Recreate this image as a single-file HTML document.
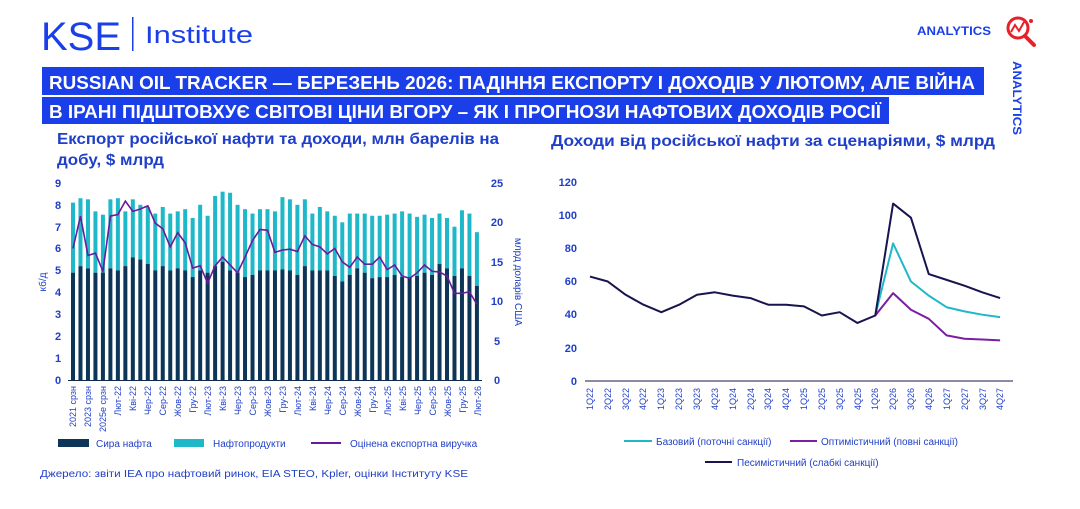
<!DOCTYPE html>
<html><head><meta charset="utf-8">
<style>
html,body{margin:0;padding:0;background:#fff;width:1080px;height:509px;overflow:hidden}
svg{display:block;font-family:"Liberation Sans","DejaVu Sans",sans-serif}
</style></head>
<body>
<svg id="s" width="1080" height="509" viewBox="0 0 1080 509">
<rect width="1080" height="509" fill="#fff"/>
<!-- header -->
<text x="41" y="50" style="font-family:'Liberation Sans',sans-serif" font-size="40" fill="#1a3ee8" textLength="80" lengthAdjust="spacingAndGlyphs">KSE</text>
<rect x="132" y="17" width="1.5" height="34" fill="#1a3ee8"/>
<text x="145" y="43" style="font-family:'Liberation Sans',sans-serif" font-size="24" fill="#1a3ee8" textLength="108" lengthAdjust="spacingAndGlyphs">Institute</text>
<text x="917" y="35" font-size="12" font-weight="bold" fill="#1a3ee8" textLength="74" lengthAdjust="spacingAndGlyphs">ANALYTICS</text>
<circle cx="1018" cy="28" r="10" fill="none" stroke="#e8202a" stroke-width="3"/>
<line x1="1025" y1="36" x2="1034" y2="45" stroke="#e8202a" stroke-width="4" stroke-linecap="round"/>
<polyline points="1011,32 1015,25 1019,31 1024,22" fill="none" stroke="#e8202a" stroke-width="2"/>
<circle cx="1031" cy="21" r="2" fill="#e8202a"/>
<text transform="translate(1013,61) rotate(90)" font-size="12" font-weight="bold" fill="#1a3ee8" textLength="74" lengthAdjust="spacingAndGlyphs">ANALYTICS</text>
<rect x="42" y="67" width="942" height="28" fill="#1a3ee8"/>
<rect x="42" y="97" width="847" height="27" fill="#1a3ee8"/>
<text x="49" y="89" font-size="18" font-weight="bold" fill="#fff" textLength="926" lengthAdjust="spacingAndGlyphs">RUSSIAN OIL TRACKER — БЕРЕЗЕНЬ 2026: ПАДІННЯ ЕКСПОРТУ І ДОХОДІВ У ЛЮТОМУ, АЛЕ ВІЙНА</text>
<text x="49" y="118" font-size="18" font-weight="bold" fill="#fff" textLength="832" lengthAdjust="spacingAndGlyphs">В ІРАНІ ПІДШТОВХУЄ СВІТОВІ ЦІНИ ВГОРУ – ЯК І ПРОГНОЗИ НАФТОВИХ ДОХОДІВ РОСІЇ</text>
<text x="57" y="144" font-size="16" font-weight="bold" fill="#1f3fc8" textLength="442" lengthAdjust="spacingAndGlyphs">Експорт російської нафти та доходи, млн барелів на</text>
<text x="57" y="165" font-size="16" font-weight="bold" fill="#1f3fc8" textLength="107" lengthAdjust="spacingAndGlyphs">добу, $ млрд</text>
<text x="551" y="146" font-size="16" font-weight="bold" fill="#1f3fc8" textLength="444" lengthAdjust="spacingAndGlyphs">Доходи від російської нафти за сценаріями, $ млрд</text>

<!-- left axes labels -->
<g font-size="11" font-weight="bold" fill="#1f3fc8" text-anchor="middle">
<text x="58" y="384">0</text><text x="58" y="362">1</text><text x="58" y="340">2</text><text x="58" y="318">3</text><text x="58" y="296">4</text><text x="58" y="274">5</text><text x="58" y="252">6</text><text x="58" y="231">7</text><text x="58" y="209">8</text><text x="58" y="187">9</text>
<text x="497" y="384">0</text><text x="497" y="345">5</text><text x="497" y="305">10</text><text x="497" y="266">15</text><text x="497" y="226">20</text><text x="497" y="187">25</text>
</g>
<text transform="translate(46,282) rotate(-90)" font-size="10" fill="#1f3fc8" text-anchor="middle">кб/д</text>
<text transform="translate(515,282) rotate(90)" font-size="10" fill="#1f3fc8" text-anchor="middle">млрд доларів США</text>
<g id="bars"></g>
<line x1="68" y1="380.5" x2="482" y2="380.5" stroke="#0d2a4a" stroke-width="1"/>
<g font-size="9" fill="#1f3fc8" text-anchor="end">
<text transform="translate(76,386) rotate(-90)">2021 срзн</text>
<text transform="translate(91,386) rotate(-90)">2023 срзн</text>
<text transform="translate(106,386) rotate(-90)">2025e срзн</text>
<text transform="translate(121,386) rotate(-90)">Лют-22</text>
<text transform="translate(136,386) rotate(-90)">Кві-22</text>
<text transform="translate(151,386) rotate(-90)">Чер-22</text>
<text transform="translate(166,386) rotate(-90)">Сер-22</text>
<text transform="translate(181,386) rotate(-90)">Жов-22</text>
<text transform="translate(196,386) rotate(-90)">Гру-22</text>
<text transform="translate(211,386) rotate(-90)">Лют-23</text>
<text transform="translate(226,386) rotate(-90)">Кві-23</text>
<text transform="translate(241,386) rotate(-90)">Чер-23</text>
<text transform="translate(256,386) rotate(-90)">Сер-23</text>
<text transform="translate(271,386) rotate(-90)">Жов-23</text>
<text transform="translate(286,386) rotate(-90)">Гру-23</text>
<text transform="translate(301,386) rotate(-90)">Лют-24</text>
<text transform="translate(316,386) rotate(-90)">Кві-24</text>
<text transform="translate(331,386) rotate(-90)">Чер-24</text>
<text transform="translate(346,386) rotate(-90)">Сер-24</text>
<text transform="translate(361,386) rotate(-90)">Жов-24</text>
<text transform="translate(376,386) rotate(-90)">Гру-24</text>
<text transform="translate(391,386) rotate(-90)">Лют-25</text>
<text transform="translate(406,386) rotate(-90)">Кві-25</text>
<text transform="translate(421,386) rotate(-90)">Чер-25</text>
<text transform="translate(436,386) rotate(-90)">Сер-25</text>
<text transform="translate(451,386) rotate(-90)">Жов-25</text>
<text transform="translate(466,386) rotate(-90)">Гру-25</text>
<text transform="translate(481,386) rotate(-90)">Лют-26</text>
</g>
<!-- left legend -->
<rect x="58" y="439" width="31" height="8" fill="#0d3557"/>
<text x="96" y="447" font-size="10" fill="#1f3fc8">Сира нафта</text>
<rect x="174" y="439" width="30" height="8" fill="#1fb8c9"/>
<text x="213" y="447" font-size="10" fill="#1f3fc8">Нафтопродукти</text>
<line x1="311" y1="443" x2="341" y2="443" stroke="#6a1b9a" stroke-width="2"/>
<text x="350" y="447" font-size="10" fill="#1f3fc8">Оцінена експортна виручка</text>
<text x="40" y="477" font-size="10" fill="#1f3fc8" textLength="428" lengthAdjust="spacingAndGlyphs">Джерело: звіти IEA про нафтовий ринок, EIA STEO, Kpler, оцінки Інституту KSE</text>

<!-- right chart -->
<g font-size="11" font-weight="bold" fill="#1f3fc8" text-anchor="end">
<text x="577" y="385">0</text><text x="577" y="352">20</text><text x="577" y="318">40</text><text x="577" y="285">60</text><text x="577" y="252">80</text><text x="577" y="219">100</text><text x="577" y="186">120</text>
</g>
<line x1="585" y1="381" x2="1013" y2="381" stroke="#17144f" stroke-width="1"/>
<g id="rl"></g>
<g font-size="9" fill="#1f3fc8" text-anchor="end">
<text transform="translate(593,388) rotate(-90)">1Q22</text>
<text transform="translate(611,388) rotate(-90)">2Q22</text>
<text transform="translate(629,388) rotate(-90)">3Q22</text>
<text transform="translate(646,388) rotate(-90)">4Q22</text>
<text transform="translate(664,388) rotate(-90)">1Q23</text>
<text transform="translate(682,388) rotate(-90)">2Q23</text>
<text transform="translate(700,388) rotate(-90)">3Q23</text>
<text transform="translate(718,388) rotate(-90)">4Q23</text>
<text transform="translate(736,388) rotate(-90)">1Q24</text>
<text transform="translate(754,388) rotate(-90)">2Q24</text>
<text transform="translate(771,388) rotate(-90)">3Q24</text>
<text transform="translate(789,388) rotate(-90)">4Q24</text>
<text transform="translate(807,388) rotate(-90)">1Q25</text>
<text transform="translate(825,388) rotate(-90)">2Q25</text>
<text transform="translate(843,388) rotate(-90)">3Q25</text>
<text transform="translate(861,388) rotate(-90)">4Q25</text>
<text transform="translate(878,388) rotate(-90)">1Q26</text>
<text transform="translate(896,388) rotate(-90)">2Q26</text>
<text transform="translate(914,388) rotate(-90)">3Q26</text>
<text transform="translate(932,388) rotate(-90)">4Q26</text>
<text transform="translate(950,388) rotate(-90)">1Q27</text>
<text transform="translate(968,388) rotate(-90)">2Q27</text>
<text transform="translate(986,388) rotate(-90)">3Q27</text>
<text transform="translate(1003,388) rotate(-90)">4Q27</text>
</g>
<line x1="624" y1="441" x2="652" y2="441" stroke="#1fb8c9" stroke-width="2"/>
<text x="656" y="445" font-size="10" fill="#1f3fc8">Базовий (поточні санкції)</text>
<line x1="790" y1="441" x2="817" y2="441" stroke="#7a1fa2" stroke-width="2"/>
<text x="821" y="445" font-size="10" fill="#1f3fc8">Оптимістичний (повні санкції)</text>
<line x1="705" y1="462" x2="732" y2="462" stroke="#17144f" stroke-width="2"/>
<text x="737" y="466" font-size="10" fill="#1f3fc8">Песимістичний (слабкі санкції)</text>
</svg>
<script>
var NS="http://www.w3.org/2000/svg";
function el(p,t,a){var e=document.createElementNS(NS,t);for(var k in a)e.setAttribute(k,a[k]);p.appendChild(e);return e;}
var tot=[8.1,8.3,8.25,7.7,7.55,8.25,8.3,7.7,8.25,8.0,7.9,7.6,7.9,7.6,7.7,7.8,7.4,8.0,7.5,8.4,8.6,8.55,8.0,7.8,7.6,7.8,7.8,7.7,8.35,8.25,8.0,8.25,7.6,7.9,7.7,7.5,7.2,7.6,7.6,7.6,7.5,7.5,7.55,7.6,7.7,7.6,7.45,7.55,7.4,7.6,7.4,7.0,7.75,7.6,6.75];
var cr=[4.9,5.2,5.1,4.9,4.9,5.1,5.0,5.2,5.6,5.5,5.3,5.0,5.2,5.0,5.1,5.0,4.7,5.0,4.9,5.2,5.4,5.0,4.9,4.7,4.8,5.0,5.0,5.0,5.05,5.0,4.8,5.2,5.0,5.0,5.0,4.75,4.5,4.8,5.1,4.9,4.65,4.7,4.7,4.8,4.7,4.7,4.75,4.9,4.8,5.3,5.1,4.75,5.1,4.75,4.3];
var rev=[16.7,20.8,15.8,16.1,13.8,20.8,21.0,22.7,21.4,21.7,22.1,19.9,19.2,16.9,18.7,17.4,14.2,14.5,12.3,14.5,15.6,14.6,13.6,15.6,17.7,19.1,19.0,16.2,16.5,16.6,16.3,18.3,17.2,16.9,16.0,16.7,15.0,14.3,15.6,14.7,14.7,15.6,14.0,14.6,13.2,12.9,13.6,14.6,13.8,13.7,13.2,11.0,11.0,11.2,9.6];
var g=document.getElementById("bars"),pts=[];
for(var i=0;i<55;i++){var x=73+i*7.48;
el(g,"rect",{x:x-2,y:380-tot[i]*21.9,width:4,height:(tot[i]-cr[i])*21.9,fill:"#1fb8c9"});
el(g,"rect",{x:x-2,y:380-cr[i]*21.9,width:4,height:cr[i]*21.9,fill:"#0d3557"});
pts.push(x+","+(380-rev[i]*7.88));}
el(g,"polyline",{points:pts.join(" "),fill:"none",stroke:"#6a1b9a","stroke-width":1.6});
var r=document.getElementById("rl");
function line(vals,off,c){var p=[];for(var j=0;j<vals.length;j++)p.push((590+(j+off)*17.83)+","+(381-vals[j]*1.658));el(r,"polyline",{points:p.join(" "),fill:"none",stroke:c,"stroke-width":2,"stroke-linejoin":"round"});}
line([39.5,83,60,51.5,44.5,42,40,38.5],16,"#1fb8c9");
line([39.5,53,43,37.5,27.5,25.5,25,24.5],16,"#7a1fa2");
line([63,60,52,46,41.5,46,52,53.5,51.5,50,46,46,45,39.5,41.5,35,39.5,107,98.5,64.5,61,57.5,53.5,50],0,"#17144f");
</script>
</body></html>
